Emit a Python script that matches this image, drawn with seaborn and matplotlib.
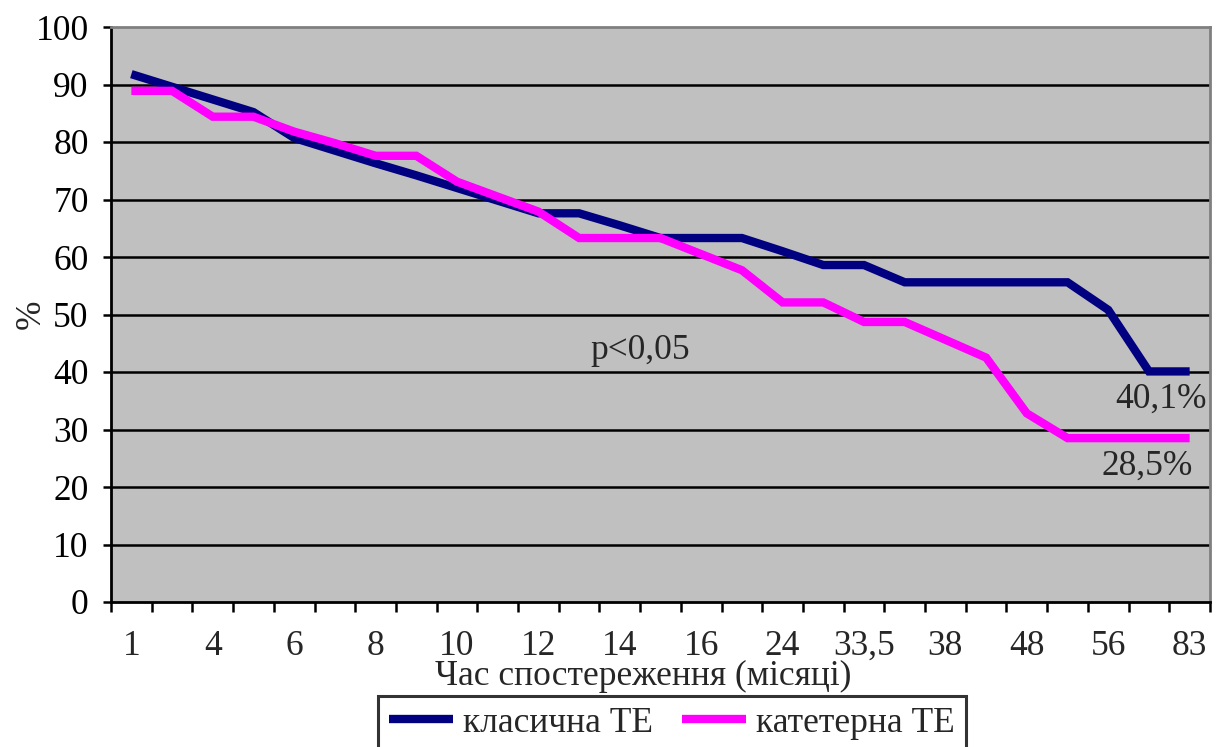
import numpy as np
import pandas as pd
import matplotlib
matplotlib.use("Agg")
import matplotlib.pyplot as plt
import seaborn as sns

# Дані, 27 точок спостереження
x_labels = ["1", "4", "6", "8", "10", "12", "14", "16", "24", "33,5", "38", "48", "56", "83"]
klasychna = [91.8, 89.6, 87.4, 85.2, 80.7, 78.5, 76.3, 74.2, 72.0, 69.8,
             67.6, 67.6, 65.5, 63.3, 63.3, 63.3, 61.0, 58.6, 58.6, 55.6,
             55.6, 55.6, 55.6, 55.6, 50.8, 40.1, 40.1]
kateterna = [88.9, 88.9, 84.4, 84.4, 81.8, 79.8, 77.6, 77.6, 73.1, 70.5,
             67.9, 63.3, 63.3, 63.3, 60.5, 57.7, 52.1, 52.1, 48.7, 48.7,
             45.6, 42.5, 32.8, 28.5, 28.5, 28.5, 28.5]
series_names = ["класична ТЕ", "катетерна ТЕ"]
colors = ["#000080", "#FF00FF"]

n = len(klasychna)
idx = np.arange(n)
df = pd.DataFrame({
    "i": np.concatenate([idx, idx]),
    "val": klasychna + kateterna,
    "group": [series_names[0]] * n + [series_names[1]] * n,
})

sns.set_style("white")
plt.rcParams['font.family'] = ['Liberation Serif', 'DejaVu Serif']
fs = 25.5

fig = plt.figure(figsize=(12.18, 7.47), dpi=100)
ax = fig.add_axes([111 / 1218, 1 - 602 / 747, 1099 / 1218, 575 / 747])
ax.set_facecolor("#C0C0C0")

sns.lineplot(data=df, x="i", y="val", hue="group", palette=colors,
             linewidth=6, ax=ax, legend=False, solid_joinstyle="miter",
             solid_capstyle="butt")

ax.set_xlim(-0.5, n - 0.5)
ax.set_ylim(0, 100)
ax.set_yticks(np.arange(0, 101, 10))
ax.tick_params(axis="y", labelsize=fs, length=6, width=1.8, direction="out",
               pad=10, colors="black", left=True)
ax.set_xticks(idx[::2])
ax.set_xticklabels(x_labels)
ax.set_xticks(np.arange(-0.5, n, 1), minor=True)
ax.tick_params(axis="x", which="major", labelsize=fs, length=0, pad=20)
ax.tick_params(axis="x", which="minor", length=7, width=1.8, direction="out",
               bottom=True, color="black")

ax.yaxis.grid(True, color="black", linewidth=1.8)
ax.set_axisbelow(True)
gl = ax.yaxis.get_gridlines()
gl[0].set_visible(False)
gl[-1].set_visible(False)

for s in ["left", "bottom"]:
    ax.spines[s].set_color("black")
    ax.spines[s].set_linewidth(2.0)
for s in ["top", "right"]:
    ax.spines[s].set_color("#808080")
    ax.spines[s].set_linewidth(2.0)

ax.set_xlabel("Час спостереження (місяці)", fontsize=fs)
ax.xaxis.set_label_coords(0.484, -0.1)
ax.set_ylabel("%", fontsize=fs)
ax.yaxis.set_label_coords(-0.058, 0.5)

ax.text(12.5, 43.8, "p<0,05", fontsize=fs, ha="center", va="center")
ax.annotate(f"{klasychna[-1]:.1f}%".replace(".", ","), xy=(n - 1, klasychna[-1]),
            xytext=(12, -20), textcoords="offset points", fontsize=fs,
            ha="right", va="center")
ax.annotate(f"{kateterna[-1]:.1f}%".replace(".", ","), xy=(n - 1, kateterna[-1]),
            xytext=(2, -20), textcoords="offset points", fontsize=fs,
            ha="right", va="center")

handles = [plt.Line2D([], [], color=c, linewidth=6, solid_capstyle="butt")
           for c in colors]
leg = fig.legend(handles, series_names, loc="upper center",
                 bbox_to_anchor=(672 / 1218, 1 - 696 / 747), ncol=2,
                 fontsize=fs, frameon=True, fancybox=False, handlelength=1.8,
                 handletextpad=0.3, columnspacing=0.8, borderpad=0.3,
                 borderaxespad=0)
leg.get_frame().set_edgecolor("black")
leg.get_frame().set_linewidth(2.2)

fig.savefig("out.png", dpi=100)
